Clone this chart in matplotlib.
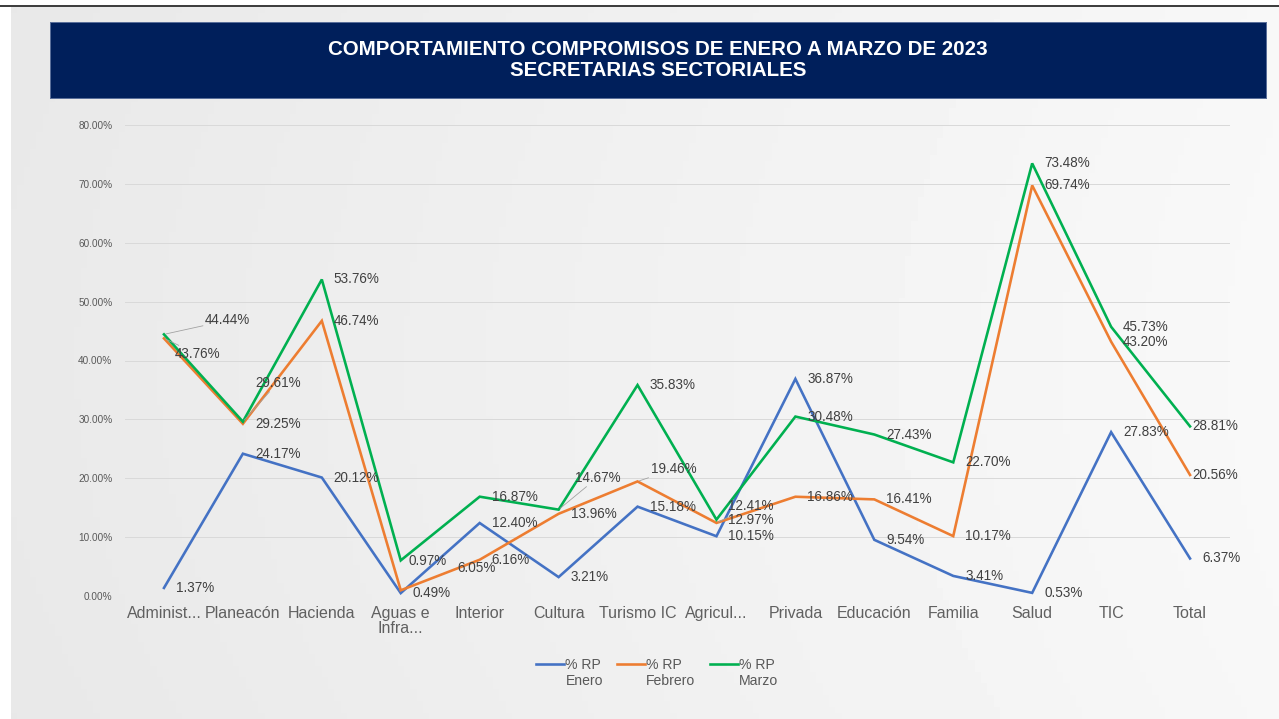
import numpy as np
import matplotlib
matplotlib.use("Agg")
import matplotlib.pyplot as plt
from matplotlib.ticker import FuncFormatter
from matplotlib.legend_handler import HandlerLine2D

plt.rcParams['font.family'] = ['Liberation Sans', 'DejaVu Sans']

categories = ["Administ...", "Planeacón", "Hacienda", "Aguas e\nInfra...", "Interior",
              "Cultura", "Turismo IC", "Agricul...", "Privada", "Educación",
              "Familia", "Salud", "TIC", "Total"]
enero = [1.37, 24.17, 20.12, 0.49, 12.40, 3.21, 15.18, 10.15, 36.87, 9.54, 3.41, 0.53, 27.83, 6.37]
febrero = [43.76, 29.25, 46.74, 0.97, 6.16, 13.96, 19.46, 12.41, 16.86, 16.41, 10.17, 69.74, 43.20, 20.56]
marzo = [44.44, 29.61, 53.76, 6.05, 16.87, 14.67, 35.83, 12.97, 30.48, 27.43, 22.70, 73.48, 45.73, 28.81]
series_names = ["% RP\nEnero", "% RP\nFebrero", "% RP\nMarzo"]
colors = ["#4472C4", "#ED7D31", "#00B050"]

# label nudges (in pixels) for the labels Excel moved away from the point
nudges = {(2, 0): (41, 14, True), (1, 0): (11, -16, True), (2, 1): (12, 39, True),
          (2, 3): (57, -8, False), (1, 3): (8, 29, False), (2, 5): (16, 32, True),
          (1, 6): (13, 12, True), (1, 7): (12, 17, True),
          (2, 13): (2, 0, False), (1, 13): (2, 0, False)}


class TopLine(HandlerLine2D):
    # put the legend line next to the first text line
    def create_artists(self, legend, orig_handle, xdescent, ydescent, width, height,
                       fontsize, trans):
        arts = super().create_artists(legend, orig_handle, xdescent, ydescent, width,
                                      height, fontsize, trans)
        for a in arts:
            a.set_ydata(np.asarray(a.get_ydata()) + fontsize * 0.7)
        return arts


W, H = 1279, 719
fig = plt.figure(figsize=(W / 72, H / 72), dpi=72)
fig.patch.set_facecolor("white")

# panel background with soft gradient
bg = fig.add_axes([11 / W, 0, 1 - 11 / W, 1 - 7 / H])
xx, yy = np.meshgrid(np.linspace(0, 1, 200), np.linspace(0, 1, 120))
shade = 0.915 + 0.06 * xx - 0.02 * (yy - 0.5) ** 2
bg.imshow(shade, cmap="gray", vmin=0, vmax=1, aspect="auto", extent=[0, 1, 0, 1])
bg.set_axis_off()

# top black rule
fig.add_artist(plt.Line2D([0, 1], [1 - 6 / H, 1 - 6 / H], color="black", lw=1.5))

# title banner
ban = fig.add_axes([50 / W, 1 - 98 / H, (1266 - 50) / W, (98 - 22) / H])
ban.set_facecolor("#001F5B")
ban.set_xticks([])
ban.set_yticks([])
for s in ban.spines.values():
    s.set_color("#5a6f9a")
    s.set_linewidth(1)
ban.text(0.5, 0.5, "COMPORTAMIENTO COMPROMISOS DE ENERO A MARZO DE 2023\nSECRETARIAS SECTORIALES",
         color="white", fontsize=20.5, fontweight="bold", ha="center", va="center",
         linespacing=1.15, transform=ban.transAxes)

ax = fig.add_axes([124.5 / W, 1 - 596 / H, (1229.5 - 124.5) / W, (596 - 125) / H])
ax.set_facecolor("none")
x = np.arange(len(categories))
for si, (vals, c, name) in enumerate(zip([enero, febrero, marzo], colors, series_names)):
    ax.plot(x, vals, color=c, lw=2.6, label=name, solid_joinstyle="miter")
    for i, v in enumerate(vals):
        dx, dy, lead = nudges.get((si, i), (12, 0, False))
        ax.annotate(f"{v:.2f}%", (i, v), xytext=(dx, dy), textcoords="offset points",
                    ha="left", va="center", fontsize=13.5, color="#404040",
                    arrowprops=dict(arrowstyle="-", color="#a0a0a0", lw=0.8,
                                    shrinkA=0, shrinkB=2) if lead else None)

ax.set_xlim(-0.5, len(categories) - 0.5)
ax.set_ylim(0, 80)
ax.set_yticks(np.arange(0, 81, 10))
ax.yaxis.set_major_formatter(FuncFormatter(lambda v, p: f"{v:.2f}%"))
ax.set_xticks(x)
ax.set_xticklabels(categories, fontsize=16, color="#606060", linespacing=1.0)
ax.tick_params(axis="y", labelsize=10, colors="#595959", length=0, pad=12)
ax.tick_params(axis="x", length=0, pad=10)
ax.grid(axis="y", color="#d9d9d9", lw=1)
ax.set_axisbelow(True)
for s in ax.spines.values():
    s.set_visible(False)

leg = ax.legend(loc="upper center", bbox_to_anchor=(0.482, -0.105), ncol=3, frameon=False,
                fontsize=14, labelcolor="#595959", handlelength=2.0, handletextpad=0.1,
                columnspacing=1.0, handler_map={plt.Line2D: TopLine()})
for t in leg.get_texts():
    t.set_multialignment("left")

fig.savefig("out.png", dpi=72)
